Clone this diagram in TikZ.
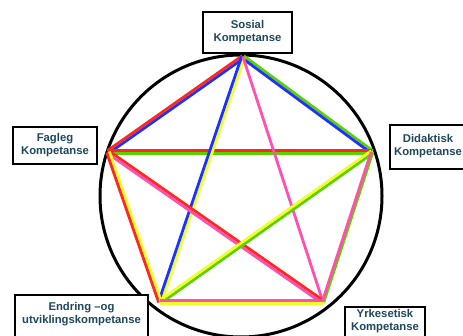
\documentclass[tikz,border=0pt]{standalone}
\usepackage{fontspec}
\setmainfont{Liberation Sans}
\usetikzlibrary{calc}
\definecolor{lred}{RGB}{255,40,30}
\definecolor{lblue}{RGB}{30,50,255}
\definecolor{lgreen}{RGB}{90,210,0}
\definecolor{lyellow}{RGB}{240,255,40}
\definecolor{lpink}{RGB}{255,80,175}
\definecolor{labelink}{RGB}{30,72,92}
\tikzset{
  edge/.style={line width=2.8pt},
  ring/.style={draw=black, line width=3pt},
  namebox/.style={draw=black, fill=white, line width=1.3pt, inner sep=0pt},
  nametext/.style={text=labelink, font=\fontsize{11.3}{13}\selectfont\bfseries, align=center, inner sep=0pt},
}
% two parallel coloured strokes between corners #2 and #3:
% #4 lies on the left of the direction #2 -> #3, #5 on the right
\newcommand\twinedge[5][1.4pt]{%
  \draw[edge,#4] ($(#2)!#1!90:(#3)$) -- ($(#3)!#1!-90:(#2)$);
  \draw[edge,#5] ($(#2)!#1!-90:(#3)$) -- ($(#3)!#1!90:(#2)$);
}
\begin{document}
\begin{tikzpicture}[x=1pt,y=1pt]
\useasboundingbox (0,0) rectangle (463,336);
\begin{scope}
\clip (0,0) rectangle (463,336);

% outer circle
\node[ring, circle, minimum size=282pt, inner sep=0pt] (ring) at (241,140) {};

% corners of the pentagon
\coordinate (T)  at (243,279);
\coordinate (R)  at (372,184);
\coordinate (BR) at (323,34);
\coordinate (BL) at (160,34);
\coordinate (L)  at (108,184);

% connections
\twinedge{T}{L}{lblue}{lred}
\twinedge{T}{R}{lgreen}{lblue}
\twinedge{L}{R}{lred}{lgreen}
\twinedge{T}{BL}{lyellow}{lblue}
\draw[edge,lpink] (T) -- (BR);
\twinedge{L}{BR}{lred}{lpink}
\twinedge{L}{BL}{lyellow}{lred}
\twinedge{R}{BL}{lgreen}{lyellow}
\twinedge[0.8pt]{R}{BR}{lgreen}{lpink}
\twinedge{BL}{BR}{lpink}{lyellow}

% labels
\node[namebox, minimum width=89pt, minimum height=41pt] (sosial) at (247.5,303.5) {};
\node[nametext] (sosialtext) at (sosial) {Sosial\\Kompetanse};

\node[namebox, minimum width=84pt, minimum height=37pt] (fagleg) at (55,190.5) {};
\node[nametext] (faglegtext) at (fagleg) {Fagleg\\Kompetanse};

\node[namebox, minimum width=84pt, minimum height=44pt] (didaktisk) at (432,189) {};
\node[nametext] (didaktisktext) at (428,190) {Didaktisk\\Kompetanse};

\node[namebox, minimum width=133pt, minimum height=60pt] (endring) at (81.5,11) {};
\node[nametext] (endringtext) at (81.5,22) {Endring –og\\utviklingskompetanse};

\node[namebox, minimum width=80pt, minimum height=50pt] (yrke) at (385,4) {};
\node[nametext] (yrketext) at (385,14.5) {Yrkesetisk\\Kompetanse};
\end{scope}
\end{tikzpicture}
\end{document}
